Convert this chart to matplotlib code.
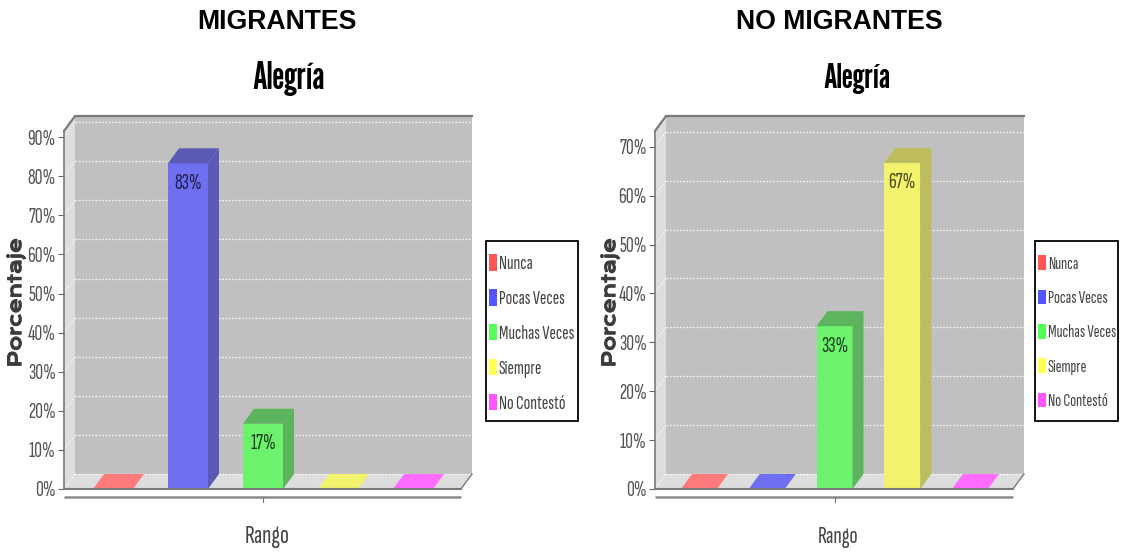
import matplotlib
matplotlib.use("Agg")
import matplotlib.pyplot as plt
import matplotlib.patheffects as pe
from matplotlib.patches import Polygon, Patch, Rectangle
from matplotlib import font_manager as fm

W, H = 1125, 554
categories = ["Nunca", "Pocas Veces", "Muchas Veces", "Siempre", "No Contestó"]
migrantes = [0, 83.3, 16.7, 0, 0]
no_migrantes = [0, 0, 33.3, 66.7, 0]
ticks_mig = [0, 10, 20, 30, 40, 50, 60, 70, 80, 90]
ticks_nomig = [0, 10, 20, 30, 40, 50, 60, 70]
front = ["#ff7a7a", "#6f6ff2", "#6cf26c", "#f2f26c", "#ff6cff"]
shade = ["#bd5c5c", "#5b5bb5", "#5cb55c", "#bdbd5c", "#bd5cbd"]
legend_cols = ["#ff5555", "#5555ff", "#55ff55", "#ffff55", "#ff55ff"]

available = {f.name for f in fm.fontManager.ttflist}


def pick(*names):
    for n in names:
        if n in available:
            return n
    return "DejaVu Sans"


NARROW = pick("Sofia Sans Extra Condensed", "Pathway Gothic One", "PT Sans Narrow", "Roboto Condensed", "Open Sans")
HEAVY = pick("League Gothic", "Fjalla One", "Roboto Condensed", "Open Sans")
WIDE = pick("Krona One", "DejaVu Sans")

fig = plt.figure(figsize=(W / 100, H / 100), dpi=100, facecolor="white")
DX, DY = 11, 15  # depth in pixels


def panel(values, yticks, px_left, px_right, px_per_unit, first_center, spacing, barw,
          head, head_x, title_x, title_size, ylabel_x, rango_x, rango_size, box_left, box_right, leg_size):
    top_px, base_px = 131, 489
    ax = fig.add_axes([px_left / W, 1 - base_px / H, (px_right - px_left) / W, (base_px - top_px) / H])
    ax.set_xlim((px_left - first_center) / spacing, (px_right - first_center) / spacing)
    ax.set_ylim(0, (base_px - top_px) / px_per_unit)
    ax.patch.set_alpha(0)
    ddx, ddy = DX / spacing, DY / px_per_unit
    xmin, xmax = ax.get_xlim()
    ymax = ax.get_ylim()[1]
    kw = dict(clip_on=False, lw=0)
    # walls
    ax.add_patch(Polygon([(xmin + ddx, ddy), (xmax + ddx, ddy), (xmax + ddx, ymax + ddy), (xmin + ddx, ymax + ddy)],
                         fc="#c0c0c0", zorder=1, **kw))
    ax.add_patch(Polygon([(xmin, 0), (xmin + ddx, ddy), (xmin + ddx, ymax + ddy), (xmin, ymax)],
                         fc="#dddddd", zorder=1, **kw))
    ax.add_patch(Polygon([(xmin, 0), (xmax, 0), (xmax + ddx, ddy), (xmin + ddx, ddy)],
                         fc="#dddddd", zorder=1, **kw))
    # grid
    for t in yticks:
        ax.plot([xmin + ddx, xmax + ddx], [t + ddy, t + ddy], color="white", lw=1, ls=(0, (1.2, 1.2)),
                zorder=2, clip_on=False, alpha=0.85)
        ax.plot([xmin, xmin + ddx], [t, t + ddy], color="white", lw=1, ls=(0, (1.2, 1.2)),
                zorder=2, clip_on=False, alpha=0.7)
    # edges
    edge = "#7a7a7a"
    ax.plot([xmin, xmin + ddx, xmax + ddx], [ymax, ymax + ddy, ymax + ddy], color=edge, lw=1.6, zorder=3, clip_on=False)
    ax.plot([xmax, xmax + ddx], [0, ddy], color=edge, lw=1.0, zorder=3, clip_on=False)
    # bars
    bw = barw / spacing
    xs = list(range(len(values)))
    ax.bar(xs, values, width=bw, color=front, zorder=5, lw=0)
    for x, v, c in zip(xs, values, shade):
        l, r = x - bw / 2, x + bw / 2
        topc = c if v > 0 else front[x]
        ax.add_patch(Polygon([(l, v), (r, v), (r + ddx, v + ddy), (l + ddx, v + ddy)], fc=topc, zorder=5, **kw))
        if v > 0:
            ax.add_patch(Polygon([(r, 0), (r + ddx, ddy), (r + ddx, v + ddy), (r, v)], fc=c, zorder=5, **kw))
            ax.text(x, v - 20 / px_per_unit, f"{v:.0f}%", ha="center", va="center", family=NARROW,
                    fontsize=15.5, color="#20204a" if x == 1 else "#1d3d1d" if x == 2 else "#4a4a1a", zorder=6)
    # axes
    for s in ["top", "right"]:
        ax.spines[s].set_visible(False)
    for s in ["left", "bottom"]:
        ax.spines[s].set_color(edge)
        ax.spines[s].set_zorder(7)
    ax.spines["bottom"].set_linewidth(1.5)
    ax.spines["left"].set_linewidth(1.2)
    ax.set_yticks(yticks)
    ax.set_yticklabels([f"{t}%" for t in yticks], family=NARROW, fontsize=15.5, color="#555555")
    ax.tick_params(axis="y", length=4, width=0.8, color="#666666", pad=2)
    ax.set_xticks([])
    # second rule below the plot, with single centre tick
    rule = -7.5 / px_per_unit
    ax.plot([xmin, xmax], [rule, rule], color="#8a8a8a", lw=1.8, clip_on=False, solid_capstyle="butt")
    ax.plot([2, 2], [rule, rule - 5 / px_per_unit], color="#777777", lw=0.8, clip_on=False)
    # texts
    fig.text(head_x / W, 1 - 22 / H, head, ha="center", va="center", family="Liberation Sans",
             weight="bold", fontsize=19.2, color="black")
    fig.text(title_x / W, 1 - 79 / H, "Alegría", ha="center", va="center", family=HEAVY,
             fontsize=title_size, color="black")
    yl = fig.text(ylabel_x / W, 1 - 303 / H, "Porcentaje", rotation=90, ha="center", va="center",
                  family=WIDE, fontsize=13, color="#3c3c3c")
    yl.set_path_effects([pe.withStroke(linewidth=0.6, foreground="#3c3c3c")])
    fig.text(rango_x / W, 1 - 537 / H, "Rango", ha="center", va="center", family=NARROW,
             fontsize=rango_size, color="#444444")
    # legend frame and entries
    fig.add_artist(Rectangle((box_left / W, 1 - 421 / H), (box_right - box_left) / W, 180 / H,
                             transform=fig.transFigure, fc="white", ec="black", lw=1.3))
    size_px = leg_size * 100 / 72
    gap = 35 - 0.97 * size_px
    handles = [Patch(fc=c, ec="none") for c in legend_cols]
    fig.legend(handles, categories, loc="upper left",
               bbox_to_anchor=((box_left + 3) / W, 1 - (264 - 0.49 * size_px) / H),
               bbox_transform=fig.transFigure,
               prop=dict(family=NARROW, size=leg_size), labelcolor="#444444",
               frameon=False, borderaxespad=0, borderpad=0, labelspacing=gap / size_px,
               handlelength=8 / size_px, handleheight=0.9, handletextpad=2 / size_px)


panel(migrantes, ticks_mig, 64, 461, 3.91, 113, 75, 40, "MIGRANTES", 277, 289, 27, 16, 267, 19, 486, 578, 14)
panel(no_migrantes, ticks_nomig, 655, 1013, 4.89, 699, 67.75, 36, "NO MIGRANTES", 839, 857, 25, 610, 838, 17.3, 1035, 1118, 12.7)

fig.savefig("out.png", dpi=100)
